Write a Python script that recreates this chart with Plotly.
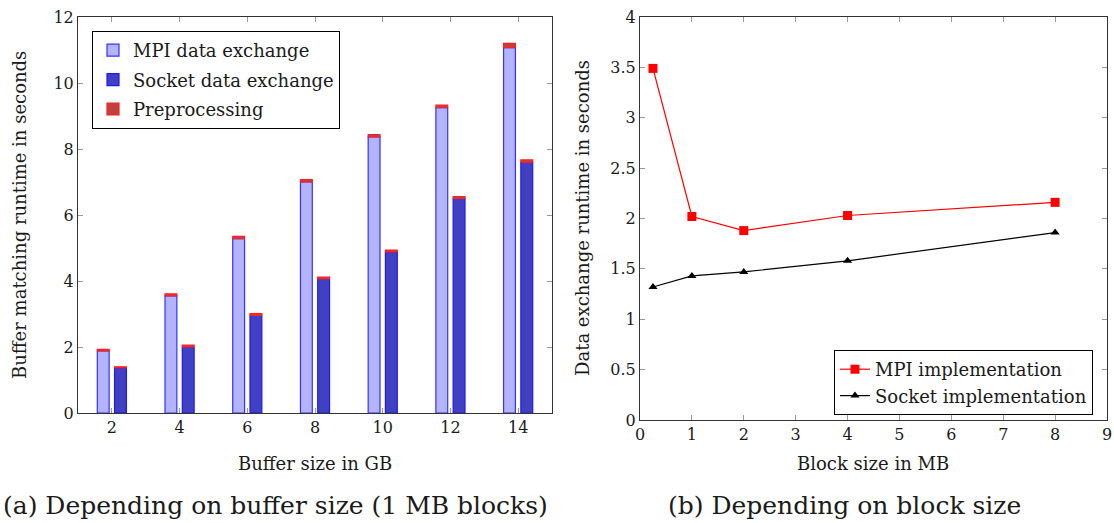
import plotly.graph_objects as go

# ---- data ----
buffer_gb = [2, 4, 6, 8, 10, 12, 14]
mpi_exchange = [1.88, 3.55, 5.28, 7.0, 8.37, 9.25, 11.07]
mpi_pre = [0.05, 0.06, 0.07, 0.07, 0.07, 0.08, 0.13]
socket_exchange = [1.37, 2.0, 2.96, 4.06, 4.88, 6.5, 7.6]
socket_pre = [0.03, 0.06, 0.05, 0.06, 0.06, 0.06, 0.07]

block_mb = [0.25, 1, 2, 4, 8]
mpi_impl = [3.49, 2.02, 1.88, 2.03, 2.16]
socket_impl = [1.32, 1.43, 1.47, 1.58, 1.86]

left_yticks = [0, 2, 4, 6, 8, 10, 12]
left_xticks = [2, 4, 6, 8, 10, 12, 14]
right_yticks = [0, 0.5, 1, 1.5, 2, 2.5, 3, 3.5, 4]
right_xticks = list(range(0, 10))

FONT = "DejaVu Serif"
INK = "#1a1a1a"
W, H = 1114, 523

fig = go.Figure()

# left: stacked grouped bars
fig.add_trace(go.Bar(x=buffer_gb, y=mpi_exchange, offset=-0.43, width=0.35,
                     marker=dict(color="#b3b3ff", line=dict(color="#3333ff", width=1.2)),
                     name="MPI data exchange", legendgroup="a",
                     xaxis="x", yaxis="y", legend="legend"))
fig.add_trace(go.Bar(x=buffer_gb, y=socket_exchange, offset=0.08, width=0.35,
                     marker=dict(color="#4040c0", line=dict(color="#1a1aff", width=1.2)),
                     name="Socket data exchange", legendgroup="b",
                     xaxis="x", yaxis="y", legend="legend"))
fig.add_trace(go.Bar(x=buffer_gb, y=mpi_pre, base=mpi_exchange, offset=-0.43, width=0.35,
                     marker=dict(color="#c04040", line=dict(color="#ff2020", width=1.2)),
                     name="Preprocessing", legendgroup="c",
                     xaxis="x", yaxis="y", legend="legend"))
fig.add_trace(go.Bar(x=buffer_gb, y=socket_pre, base=socket_exchange, offset=0.08, width=0.35,
                     marker=dict(color="#c04040", line=dict(color="#ff2020", width=1.2)),
                     name="Preprocessing", legendgroup="c", showlegend=False,
                     xaxis="x", yaxis="y"))

# right: lines
fig.add_trace(go.Scatter(x=block_mb, y=mpi_impl, mode="lines+markers",
                         line=dict(color="#ff0000", width=1.2),
                         marker=dict(symbol="square", size=9, color="#ff0000"),
                         name="MPI implementation", xaxis="x2", yaxis="y2", legend="legend2"))
fig.add_trace(go.Scatter(x=block_mb, y=socket_impl, mode="lines+markers",
                         line=dict(color="#000000", width=1.2),
                         marker=dict(symbol="triangle-up", size=8, color="#000000"),
                         name="Socket implementation", xaxis="x2", yaxis="y2", legend="legend2"))

axis_common = dict(showgrid=False, zeroline=False, showline=True, linecolor="#333", linewidth=1,
                   mirror="allticks", ticks="inside", ticklen=5, tickcolor="#999999", tickwidth=1,
                   automargin=False,
                   tickfont=dict(family=FONT, size=16, color=INK))

fig.update_layout(
    width=W, height=H, margin=dict(l=0, r=0, t=0, b=0, autoexpand=False),
    paper_bgcolor="white", plot_bgcolor="white",
    barmode="overlay", showlegend=True,
    font=dict(family=FONT, color=INK),
    xaxis=dict(domain=[78 / W, 552 / W], range=[1, 15], tickvals=left_xticks, anchor="y", **axis_common),
    yaxis=dict(domain=[(H - 413) / H, (H - 17) / H], range=[0, 12], tickvals=left_yticks, anchor="x", **axis_common),
    xaxis2=dict(domain=[640 / W, 1107 / W], range=[0, 9], tickvals=right_xticks, anchor="y2", **axis_common),
    yaxis2=dict(domain=[(H - 420) / H, (H - 17) / H], range=[0, 4], tickvals=right_yticks,
                ticktext=[("%g" % v) for v in right_yticks], anchor="x2", **axis_common),
    legend=dict(x=92 / W, y=(H - 31) / H, xanchor="left", yanchor="top",
                bordercolor="black", borderwidth=1, bgcolor="white",
                font=dict(family=FONT, size=18, color=INK), itemwidth=30, tracegroupgap=3),
    legend2=dict(x=834 / W, y=(H - 350) / H, xanchor="left", yanchor="top",
                 bordercolor="black", borderwidth=1, bgcolor="white",
                 font=dict(family=FONT, size=18, color=INK), itemwidth=30),
)

ann = []
def txt(x, y, s, size, angle=0):
    ann.append(dict(x=x / W, y=(H - y) / H, xref="paper", yref="paper", text=s, showarrow=False,
                    textangle=angle, font=dict(family=FONT, size=size, color=INK),
                    xanchor="center", yanchor="middle"))

txt(315, 463, "Buffer size in GB", 18)
txt(873, 463, "Block size in MB", 18)
txt(19, 215, "Buffer matching runtime in seconds", 18, -90)
txt(583, 218, "Data exchange runtime in seconds", 18, -90)
txt(275, 505, "(a) Depending on buffer size (1 MB blocks)", 25)
txt(844, 505, "(b) Depending on block size", 25)
fig.update_layout(annotations=ann)

fig.write_html("out.html")
